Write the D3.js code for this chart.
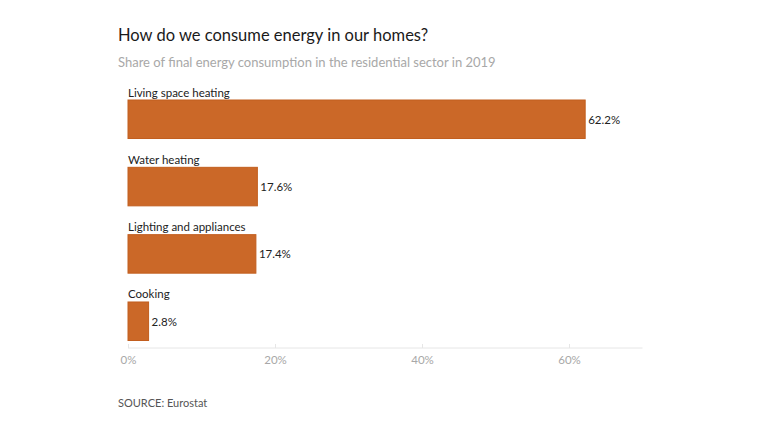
<!DOCTYPE html>
<html><head><meta charset="utf-8">
<script src="https://cdn.jsdelivr.net/npm/d3@7"></script>
<style>
body{margin:0;background:#fff;}
svg{font-family:Lato, "Open Sans", sans-serif;}
</style></head>
<body><svg id="c" width="768" height="432"></svg>
<script>
const categories = ["Living space heating","Water heating","Lighting and appliances","Cooking"];
const values = [62.2, 17.6, 17.4, 2.8];
const tickValues = [0, 20, 40, 60];

const svg = d3.select("#c");
const x = d3.scaleLinear().domain([0, 70]).range([128, 642.5]);
const y = d3.scaleBand().domain(categories).range([100, 340.5]).paddingInner(0.428).paddingOuter(0);

svg.append("text").attr("x",118).attr("y",41).attr("font-size",16.5).attr("fill","#1a1a1a").text("How do we consume energy in our homes?");
svg.append("text").attr("x",118).attr("y",67).attr("font-size",13).attr("fill","#a8a8a8").text("Share of final energy consumption in the residential sector in 2019");

// axis
const axisY = 348;
const ax = svg.append("g").attr("transform",`translate(0,${axisY})`)
  .call(d3.axisBottom(x).tickValues(tickValues).tickFormat(d=>d+"%").tickSize(-4).tickPadding(8));
ax.select(".domain").attr("stroke","#e6e6e6").attr("d",`M${x(0)},0H${x(70)}`);
ax.selectAll(".tick line").attr("stroke","#e6e6e6");
ax.selectAll(".tick text").attr("fill","#a8a8a8").attr("font-size",11.5).attr("font-family","Lato, 'Open Sans', sans-serif");

const g = svg.append("g");
categories.forEach((c,i)=>{
  g.append("rect").attr("x",x(0)).attr("y",y(c)).attr("width",x(values[i])-x(0)).attr("height",y.bandwidth())
    .attr("fill","#cb6828").attr("stroke","#c25e1e").attr("stroke-width",1);
  g.append("text").attr("x",x(0)).attr("y",y(c)-3.5).attr("font-size",11.5).attr("fill","#222").text(c);
  g.append("text").attr("x",x(values[i])+3).attr("y",y(c)+y.bandwidth()/2).attr("dy","0.38em")
    .attr("font-size",11.5).attr("fill","#222").text(values[i].toFixed(1)+"%");
});

svg.append("text").attr("x",118).attr("y",407).attr("font-size",11).attr("fill","#555").text("SOURCE: Eurostat");
</script></body></html>
